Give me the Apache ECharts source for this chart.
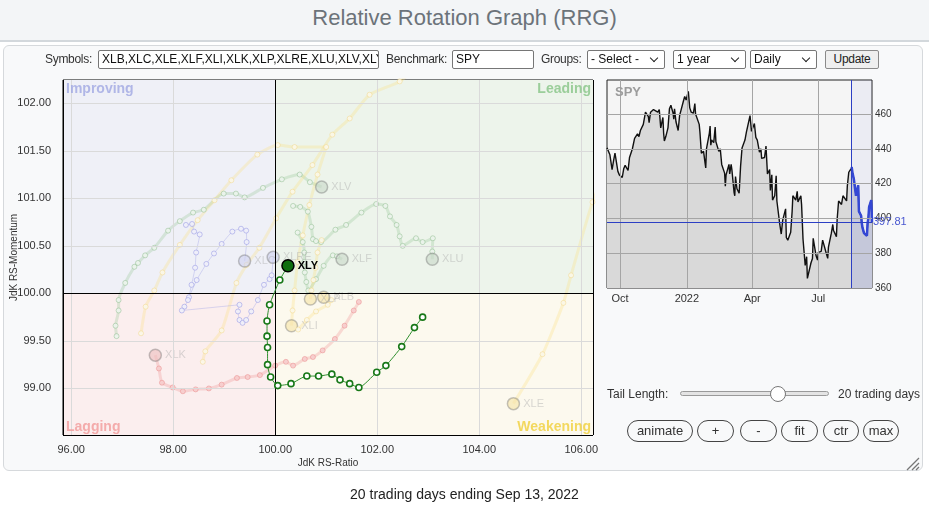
<!DOCTYPE html>
<html><head><meta charset="utf-8">
<script src="https://cdn.jsdelivr.net/npm/echarts@6/dist/echarts.min.js"></script>
<style>
body{margin:0;width:929px;height:506px;overflow:hidden;background:#fff;font-family:"Liberation Sans",Arial,sans-serif;position:relative}
#topbar{position:absolute;left:0;top:0;width:929px;height:40px;background:#f3f5f7;border-bottom:2px solid #d3d8dc}
#title{position:absolute;left:0;top:5px;width:929px;text-align:center;font-family:"Liberation Sans",Arial,sans-serif;font-size:22px;color:#6c737a}
#panel{position:absolute;left:3px;top:45px;width:920px;height:426px;border:1px solid #d6d9dc;border-radius:6px;background:#f8f9fa;box-sizing:border-box}
#chart{position:absolute;left:0;top:0;width:929px;height:506px}
.nl{position:absolute;font-family:"Liberation Sans",Arial,sans-serif;font-size:12px;letter-spacing:-0.3px;color:#333;line-height:19px;top:50px}
.box{position:absolute;top:50px;height:19px;box-sizing:border-box;border:1px solid #767676;background:#fff;font-family:"Liberation Sans",Arial,sans-serif;font-size:12px;letter-spacing:0px;line-height:17px;padding-left:3px;color:#111;white-space:nowrap;overflow:hidden;border-radius:2px}
.sel::after{content:"";position:absolute;right:7px;top:4px;width:5px;height:5px;border-right:1.5px solid #222;border-bottom:1.5px solid #222;transform:rotate(45deg)}
.btn{position:absolute;top:50px;height:19px;box-sizing:border-box;border:1px solid #8a8a8a;background:#efefef;font-family:"Liberation Sans",Arial,sans-serif;font-size:12px;letter-spacing:-0.3px;line-height:17px;text-align:center;color:#222;border-radius:2px}
.pill{position:absolute;top:420px;height:22px;box-sizing:border-box;border:1px solid #444;border-radius:11px;font-family:"Liberation Sans",Arial,sans-serif;font-size:13px;line-height:20px;text-align:center;color:#333;background:#f8f9fa}
.tx{position:absolute;font-family:"Liberation Sans",Arial,sans-serif;font-size:12px;color:#333}
#foot{position:absolute;left:0;top:486px;width:929px;text-align:center;font-family:"Liberation Sans",Arial,sans-serif;font-size:14px;color:#222}
</style></head>
<body>
<div id="topbar"></div>
<div id="title">Relative Rotation Graph (RRG)</div>
<div id="panel"></div>
<div id="chart"></div>
<div class="nl" style="left:45px">Symbols:</div>
<div class="box" style="left:98px;width:281px">XLB,XLC,XLE,XLF,XLI,XLK,XLP,XLRE,XLU,XLV,XLY</div>
<div class="nl" style="left:386px">Benchmark:</div>
<div class="box" style="left:452px;width:82px">SPY</div>
<div class="nl" style="left:541px">Groups:</div>
<div class="box sel" style="left:587px;width:78px">- Select -</div>
<div class="box sel" style="left:673px;width:73px">1 year</div>
<div class="box sel" style="left:750px;width:67px">Daily</div>
<div class="btn" style="left:825px;width:54px">Update</div>
<div class="tx" style="left:607px;top:387px">Tail Length:</div>
<div style="position:absolute;left:680px;top:391px;width:149px;height:5px;box-sizing:border-box;border:1px solid #9a9a9a;border-radius:3px;background:#e4e4e4"></div>
<div style="position:absolute;left:770px;top:386px;width:16px;height:16px;box-sizing:border-box;border:1px solid #777;border-radius:50%;background:#fff"></div>
<div class="tx" style="left:838px;top:387px">20 trading days</div>
<div class="pill" style="left:627px;width:66px">animate</div>
<div class="pill" style="left:697px;width:37px">+</div>
<div class="pill" style="left:740px;width:37px">-</div>
<div class="pill" style="left:781px;width:37px">fit</div>
<div class="pill" style="left:823px;width:36px">ctr</div>
<div class="pill" style="left:863px;width:36px">max</div>
<svg style="position:absolute;left:904px;top:455px" width="16" height="16"><path d="M15 3 L3 15 M15 8 L8 15 M15 12 L12 15" stroke="#777" stroke-width="1.3"/></svg>
<div id="foot">20 trading days ending Sep 13, 2022</div>
<script>
// ---------- RRG data ----------
const xMin = 95.84, xMax = 106.23, yMin = 98.51, yMax = 102.245;
const xTicks = [96, 98, 100, 102, 104, 106];
const yTicks = [99, 99.5, 100, 100.5, 101, 101.5, 102];
const quadrantNames = ['Improving', 'Leading', 'Lagging', 'Weakening'];

const tailXLY = [[102.89,99.75],[102.73,99.64],[102.48,99.44],[102.17,99.24],[101.99,99.17],[101.64,99.01],[101.46,99.05],[101.27,99.09],[101.11,99.15],[100.85,99.13],[100.62,99.13],[100.31,99.05],[100.05,99.03],[99.91,99.12],[99.85,99.25],[99.85,99.43],[99.84,99.55],[99.84,99.71],[99.89,99.88],[100.09,100.14],[100.25,100.29]];
const tailXLK = [[101.64,99.91],[101.54,99.82],[101.36,99.66],[101.17,99.52],[100.93,99.40],[100.74,99.33],[100.58,99.31],[100.35,99.24],[100.21,99.28],[100.00,99.24],[99.70,99.14],[99.46,99.12],[99.25,99.11],[98.95,99.04],[98.70,99.00],[98.44,98.99],[98.19,98.97],[97.99,99.01],[97.78,99.06],[97.72,99.21],[97.65,99.35]];
const tailXLV = [[96.89,99.55],[96.87,99.66],[96.93,99.82],[96.93,99.93],[97.06,100.11],[97.24,100.28],[97.31,100.32],[97.45,100.40],[97.63,100.48],[97.90,100.66],[98.13,100.76],[98.39,100.85],[98.60,100.88],[98.99,101.05],[99.23,101.05],[99.40,101.01],[99.76,101.11],[100.13,101.20],[100.48,101.25],[100.68,101.17],[100.91,101.12]];
const tailXLU = [[100.35,100.92],[100.49,100.91],[100.64,100.86],[100.71,100.70],[100.74,100.57],[100.80,100.55],[100.90,100.54],[101.18,100.67],[101.39,100.72],[101.69,100.85],[101.98,100.94],[102.16,100.92],[102.25,100.81],[102.38,100.72],[102.44,100.60],[102.50,100.50],[102.76,100.58],[102.89,100.54],[103.09,100.58],[103.08,100.44],[103.08,100.36]];
const tailXLF = [[100.44,100.64],[100.54,100.54],[100.57,100.43],[100.57,100.33],[100.58,100.22],[100.61,100.12],[100.65,100.03],[100.80,100.15],[100.95,100.29],[101.13,100.40],[101.21,100.39],[101.31,100.36]];
const tailXLE = [[98.58,99.28],[98.63,99.39],[98.95,99.61],[99.24,100.11],[99.44,100.30],[99.69,100.48],[100.02,100.79],[100.34,101.07],[100.73,101.35],[101.12,101.67],[101.46,101.84],[101.85,102.09],[102.44,102.23],[103.2,102.55],[104.6,102.8],[106.0,102.75],[106.9,101.9],[106.22,100.96],[105.80,100.19],[105.65,99.90],[105.24,99.36],[104.67,98.84]];
const tailXLI = [[97.37,99.58],[97.46,99.86],[97.63,100.03],[97.79,100.22],[98.13,100.51],[98.48,100.77],[98.81,100.98],[99.14,101.19],[99.65,101.46],[100.05,101.56],[100.38,101.54],[101.00,101.54],[100.83,101.25],[100.67,100.93],[100.54,100.61],[100.44,100.33],[100.38,100.03],[100.34,99.82],[100.32,99.66]];
const tailXLB = [[100.45,99.62],[100.62,99.72],[100.80,99.81],[101.03,99.88],[101.10,99.93],[100.95,99.96]];
const tailXLP = [[100.91,100.56],[100.83,100.43],[100.79,100.27],[100.75,100.14],[100.71,100.03],[100.69,99.94]];
const tailXLC = [[98.31,99.96],[98.46,100.14],[98.65,100.31],[98.80,100.42],[98.95,100.52],[99.16,100.65],[99.33,100.68],[99.43,100.66],[99.44,100.54],[99.40,100.34]];
const tailXLRE = [[98.25,100.72],[98.37,100.73],[98.41,100.65],[98.52,100.62],[98.45,100.43],[98.43,100.27],[98.36,100.09],[98.29,99.93],[98.22,99.86],[98.17,99.82],[99.30,99.88],[99.27,99.81],[99.30,99.72],[99.36,99.69],[99.43,99.72],[99.53,99.81],[99.66,99.93],[99.78,100.09],[99.89,100.15],[99.93,100.19],[99.96,100.38]];

// ---------- SPY data ----------
const spyDates = ['2021-09-13','2021-09-15','2021-09-17','2021-09-20','2021-09-22','2021-09-24','2021-09-28','2021-09-30','2021-10-04','2021-10-06','2021-10-08','2021-10-12','2021-10-14','2021-10-18','2021-10-21','2021-10-25','2021-10-27','2021-10-29','2021-11-02','2021-11-05','2021-11-09','2021-11-10','2021-11-12','2021-11-16','2021-11-18','2021-11-22','2021-11-24','2021-11-26','2021-11-29','2021-11-30','2021-12-01','2021-12-03','2021-12-06','2021-12-08','2021-12-10','2021-12-13','2021-12-14','2021-12-15','2021-12-17','2021-12-20','2021-12-22','2021-12-27','2021-12-29','2021-12-31','2022-01-03','2022-01-04','2022-01-05','2022-01-07','2022-01-10','2022-01-12','2022-01-13','2022-01-18','2022-01-19','2022-01-21','2022-01-24','2022-01-26','2022-01-27','2022-01-28','2022-02-01','2022-02-02','2022-02-03','2022-02-04','2022-02-07','2022-02-09','2022-02-10','2022-02-14','2022-02-16','2022-02-18','2022-02-22','2022-02-23','2022-02-24','2022-02-28','2022-03-01','2022-03-03','2022-03-04','2022-03-07','2022-03-08','2022-03-09','2022-03-11','2022-03-14','2022-03-16','2022-03-18','2022-03-22','2022-03-24','2022-03-29','2022-03-31','2022-04-04','2022-04-06','2022-04-08','2022-04-11','2022-04-13','2022-04-14','2022-04-18','2022-04-20','2022-04-22','2022-04-25','2022-04-26','2022-04-28','2022-04-29','2022-05-02','2022-05-04','2022-05-05','2022-05-09','2022-05-11','2022-05-12','2022-05-13','2022-05-17','2022-05-18','2022-05-20','2022-05-24','2022-05-26','2022-05-27','2022-05-31','2022-06-02','2022-06-03','2022-06-07','2022-06-08','2022-06-10','2022-06-13','2022-06-15','2022-06-16','2022-06-17','2022-06-21','2022-06-23','2022-06-24','2022-06-28','2022-06-30','2022-07-01','2022-07-05','2022-07-07','2022-07-08','2022-07-12','2022-07-14','2022-07-15','2022-07-19','2022-07-21','2022-07-22','2022-07-26','2022-07-27','2022-07-29','2022-08-02','2022-08-04','2022-08-05','2022-08-09','2022-08-10','2022-08-12','2022-08-15','2022-08-16','2022-08-17','2022-08-18','2022-08-19','2022-08-22','2022-08-23','2022-08-24','2022-08-25','2022-08-26','2022-08-29','2022-08-30','2022-08-31','2022-09-01','2022-09-02','2022-09-06','2022-09-07','2022-09-08','2022-09-09','2022-09-12','2022-09-13'];
const spyClose = [440.5,441.5,436.5,428,433,437.5,427,425,423.5,428.5,430.5,427.5,435,440,446,448.5,447,450.5,454,461,458.5,455,461,462.5,463,461,462.5,452,458,449,444.5,447,452,463,465,460.5,457,463,455.5,450.5,459,467,470,468,473,472.5,463.5,461,460.5,466,460,454,449.5,437.5,438.5,432,429,440,449,453,442,445,443.5,452.5,444,438.5,440,431,426,418.5,425,431,425.5,431,428,415,413,424,417,414.5,430,440.5,445,449.5,459,450,454.5,446.5,445,438,440,434.5,435,441.5,425.5,428,416,425,410.5,413,424.5,410,396.5,391,390,399,405.5,389,387.5,392,404,413,410.5,415.5,409.5,413,408,388,373,378,365.5,366,374.5,377,388.5,378.5,376,380.5,381,387.5,387.5,380,377,383.5,391.5,396.5,393,389.5,399.5,410,408,413,412,410,418.5,426.5,428.5,429.5,426.5,427.5,422.5,413,412.5,413.5,419,404,401.5,397,394.5,395,391.5,390,397.5,400,406.5,410.5,397.81];
const spyStart = '2021-09-13', spyEnd = '2022-09-13', tailStart = '2022-08-16';
const spyTickDates = ['2021-10-01','2022-01-01','2022-04-01','2022-07-01'];
const spyYTicks = [360, 380, 400, 420, 440, 460];
const spyMin = 360, spyMax = 479.5, lastPrice = 397.81;
const monthNames = ['Jan','Feb','Mar','Apr','May','Jun','Jul','Aug','Sep','Oct','Nov','Dec'];

// ---------- styles ----------
const kinds = {
  lead: {line:'rgba(150,200,150,0.30)', w:3, pt:'rgba(120,175,120,0.40)', fill:'rgba(236,244,236,0.9)', head:'rgba(200,215,200,0.6)'},
  weak: {line:'rgba(250,222,120,0.28)', w:3, pt:'rgba(238,205,110,0.38)', fill:'rgba(251,247,232,0.9)', head:'rgba(245,226,165,0.6)'},
  lag:  {line:'rgba(242,160,160,0.36)', w:3, pt:'rgba(236,140,140,0.5)', fill:'rgba(246,205,205,0.9)', head:'rgba(236,190,190,0.6)'},
  impr: {line:'rgba(165,168,232,0.42)', w:1, pt:'rgba(150,152,228,0.55)', fill:'rgba(240,240,250,0.9)', head:'rgba(205,208,238,0.6)'}
};
const headLabelColor = 'rgba(170,170,170,0.45)';
function tailSeries(name, data, kind) {
  const k = kinds[kind];
  return {
    type:'line', name, xAxisIndex:0, yAxisIndex:0, z:3, smooth:0.2, showAllSymbol:true,
    symbol:'circle', symbolSize:5, silent:true,
    lineStyle:{color:k.line, width:k.w},
    itemStyle:{color:k.fill, borderColor:k.pt, borderWidth:1},
    data: data.map((p,i)=> i < data.length-1 ? {value:p} : {
      value:p, symbolSize:12,
      itemStyle:{color:k.head, borderColor:'rgba(110,110,110,0.4)', borderWidth:1.5},
      label:{show:true, position:'right', distance:3, formatter:name, color:headLabelColor, fontSize:11}
    })
  };
}
const series = [];
series.push({type:'line', xAxisIndex:0, yAxisIndex:0, data:[], z:1, silent:true,
  markArea:{silent:true, label:{show:false}, data:[
    [{xAxis:xMin, yAxis:100, itemStyle:{color:'#eff0f7'}}, {xAxis:100, yAxis:yMax}],
    [{xAxis:100, yAxis:100, itemStyle:{color:'#edf4eb'}}, {xAxis:xMax, yAxis:yMax}],
    [{xAxis:xMin, yAxis:yMin, itemStyle:{color:'#fbeeee'}}, {xAxis:100, yAxis:100}],
    [{xAxis:100, yAxis:yMin, itemStyle:{color:'#fcf9ee'}}, {xAxis:xMax, yAxis:100}]
  ]}
});
const gridLines = [];
xTicks.filter(v=>v!==100).forEach(v=>gridLines.push({xAxis:v}));
yTicks.filter(v=>v!==100).forEach(v=>gridLines.push({yAxis:v}));
series.push({type:'line', xAxisIndex:0, yAxisIndex:0, data:[], z:2, silent:true,
  markLine:{silent:true, symbol:['none','none'], label:{show:false}, animation:false,
    lineStyle:{color:'#dadada', type:'solid', width:1}, data:gridLines}
});
series.push(tailSeries('XLV', tailXLV, 'lead'));
series.push(tailSeries('XLU', tailXLU, 'lead'));
series.push(tailSeries('XLF', tailXLF, 'lead'));
series.push(tailSeries('XLE', tailXLE, 'weak'));
series.push(tailSeries('XLI', tailXLI, 'weak'));
series.push(tailSeries('XLP', tailXLP, 'weak'));
series.push(tailSeries('XLB', tailXLB, 'weak'));
series.push(tailSeries('XLK', tailXLK, 'lag'));
series.push(tailSeries('XLC', tailXLC, 'impr'));
series.push(tailSeries('XLRE', tailXLRE, 'impr'));
series.push({type:'line', xAxisIndex:0, yAxisIndex:0, data:[], z:4, silent:true,
  markLine:{silent:true, symbol:['none','none'], label:{show:false}, animation:false,
    lineStyle:{color:'#000', type:'solid', width:1},
    data:[{xAxis:100},{yAxis:100},{xAxis:xMin},{xAxis:xMax},{yAxis:yMin},{yAxis:yMax}]}
});
const qLabel = {show:true, fontSize:14, fontWeight:'bold', fontFamily:'"Liberation Sans", Arial, sans-serif'};
series.push({type:'scatter', xAxisIndex:0, yAxisIndex:0, z:5, silent:true, clip:false, symbolSize:0,
  data:[
    {value:[xMin,yMax], label:Object.assign({}, qLabel, {formatter:quadrantNames[0], color:'#a0a8e2', position:[3,2], align:'left', verticalAlign:'top'})},
    {value:[xMax,yMax], label:Object.assign({}, qLabel, {formatter:quadrantNames[1], color:'#86c486', position:[-2,2], align:'right', verticalAlign:'top'})},
    {value:[xMin,yMin], label:Object.assign({}, qLabel, {formatter:quadrantNames[2], color:'#f29a9a', position:[3,-1], align:'left', verticalAlign:'bottom'})},
    {value:[xMax,yMin], label:Object.assign({}, qLabel, {formatter:quadrantNames[3], color:'#f0d03a', position:[-2,-1], align:'right', verticalAlign:'bottom'})}
  ]
});
series.push({
  type:'line', name:'XLY', xAxisIndex:0, yAxisIndex:0, z:6, smooth:0.2, showAllSymbol:true,
  symbol:'circle', symbolSize:6, silent:true,
  lineStyle:{color:'#2f8f2f', width:1},
  itemStyle:{color:'#ffffff', borderColor:'#187818', borderWidth:1.6},
  data: tailXLY.map((p,i)=> i < tailXLY.length-1 ? {value:p} : {
    value:p, symbolSize:12,
    itemStyle:{color:'#0f6e0f', borderColor:'#000', borderWidth:1.5},
    label:{show:true, position:'right', distance:3, formatter:'XLY', color:'#000', fontSize:11, fontWeight:'bold'}
  })
});

// ---------- SPY series ----------
const spyData = spyDates.map((d,i)=>[Date.parse(d), spyClose[i]]);
const tailIdx = spyDates.indexOf(tailStart);
const spyGridLines = spyTickDates.map(d=>({xAxis:Date.parse(d)})).concat(spyYTicks.filter(v=>v>spyMin).map(v=>({yAxis:v})));
series.push({type:'line', xAxisIndex:1, yAxisIndex:1, z:2, symbol:'none', silent:true,
  data:spyData, lineStyle:{color:'#111', width:1.4}, areaStyle:{color:'#d9d9d9', opacity:1, origin:'start'},
  markLine:{silent:true, symbol:['none','none'], label:{show:false}, animation:false,
    lineStyle:{color:'#a5a5a5', type:'solid', width:1}, data:spyGridLines}
});
series.push({type:'line', xAxisIndex:1, yAxisIndex:1, z:3, symbol:'none', silent:true,
  data:spyData.slice(tailIdx), lineStyle:{color:'#3447d4', width:2.5},
  areaStyle:{color:'rgba(140,150,225,0.25)', opacity:1, origin:'start'},
  markArea:{silent:true, itemStyle:{color:'rgba(120,130,225,0.07)'}, data:[[{xAxis:Date.parse(tailStart)},{xAxis:Date.parse(spyEnd)}]]},
  markLine:{silent:true, symbol:['none','none'], animation:false,
    lineStyle:{color:'#2c3fc4', type:'solid', width:1},
    data:[{xAxis:Date.parse(tailStart), label:{show:false}},
          {yAxis:lastPrice, label:{show:true, position:'end', formatter:String(lastPrice), color:'#4a58d0', fontSize:11, distance:1}}]}
});

const option = {
  backgroundColor:'transparent',
  animation:false,
  textStyle:{fontFamily:'"Liberation Sans", Arial, sans-serif'},
  title:{text:'SPY', left:610, top:81, textStyle:{fontSize:13, fontWeight:'bold', color:'#9c9c9c', fontFamily:'"Liberation Sans", Arial, sans-serif'}},
  grid:[
    {left:63, top:80, width:530, height:355, show:true, borderColor:'#000', borderWidth:1, backgroundColor:'transparent', containLabel:false, outerBoundsMode:'none'},
    {left:607, top:80, width:265, height:208, show:true, borderColor:'#222', borderWidth:1, backgroundColor:'#f5f5f5', containLabel:false, outerBoundsMode:'none'}
  ],
  xAxis:[
    {type:'value', gridIndex:0, min:xMin, max:xMax, axisLine:{show:false}, axisTick:{show:false}, splitLine:{show:false},
     axisLabel:{customValues:xTicks, formatter:v=>v.toFixed(2), color:'#333', fontSize:11, margin:9},
     name:'JdK RS-Ratio', nameLocation:'middle', nameGap:23, nameMoveOverlap:false, nameTextStyle:{color:'#333', fontSize:10}},
    {type:'value', gridIndex:1, min:Date.parse(spyStart), max:Date.parse(spyEnd), axisLine:{show:false}, axisTick:{show:false}, splitLine:{show:false},
     axisLabel:{customValues:spyTickDates.map(d=>Date.parse(d)), color:'#333', fontSize:11, margin:5,
       formatter:v=>{const d=new Date(v); return d.getUTCMonth()===0 ? String(d.getUTCFullYear()) : monthNames[d.getUTCMonth()];}}}
  ],
  yAxis:[
    {type:'value', gridIndex:0, min:yMin, max:yMax, axisLine:{show:false}, axisTick:{show:false}, splitLine:{show:false},
     axisLabel:{customValues:yTicks, formatter:v=>v.toFixed(2), color:'#333', fontSize:11, margin:12},
     name:'JdK RS-Momentum', nameLocation:'middle', nameRotate:90, nameGap:44, nameMoveOverlap:false, nameTextStyle:{color:'#333', fontSize:10}},
    {type:'value', gridIndex:1, position:'right', min:spyMin, max:spyMax, axisLine:{show:false}, axisTick:{show:false}, splitLine:{show:false},
     axisLabel:{customValues:spyYTicks, color:'#333', fontSize:10, margin:3}}
  ],
  series
};
const chart = echarts.init(document.getElementById('chart'));
chart.setOption(option);
</script>
</body></html>
